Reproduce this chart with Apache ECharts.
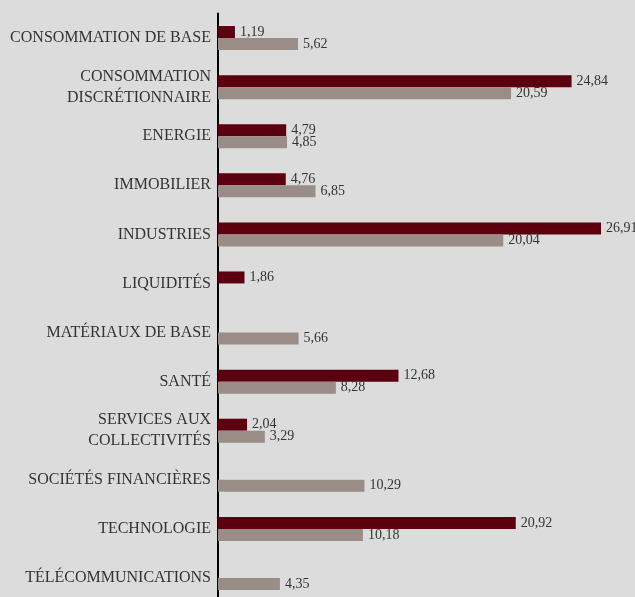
<!DOCTYPE html>
<html>
<head>
<meta charset="utf-8">
<script src="https://cdn.jsdelivr.net/npm/echarts@6/dist/echarts.min.js"></script>
<style>
  html, body { margin: 0; padding: 0; background: #dcdcdc; }
  #chart { width: 635px; height: 597px; }
</style>
</head>
<body>
<div id="chart"></div>
<script>
// secteurs
var categories = [
  'CONSOMMATION DE BASE',
  'CONSOMMATION\nDISCRÉTIONNAIRE',
  'ENERGIE',
  'IMMOBILIER',
  'INDUSTRIES',
  'LIQUIDITÉS',
  'MATÉRIAUX DE BASE',
  'SANTÉ',
  'SERVICES AUX\nCOLLECTIVITÉS',
  'SOCIÉTÉS FINANCIÈRES',
  'TECHNOLOGIE',
  'TÉLÉCOMMUNICATIONS'
]
var fondsValues = [1.19, 24.84, 4.79, 4.76, 26.91, 1.86, null, 12.68, 2.04, null, 20.92, null]
var indiceValues = [5.62, 20.59, 4.85, 6.85, 20.04, null, 5.66, 8.28, 3.29, 10.29, 10.18, 4.35]

var chart = echarts.init(document.getElementById('chart'))

function fmt(p) {
  return p.value == null ? '' : p.value.toFixed(2).replace('.', ',')
}

var labelStyle = {
  show: true,
  position: 'right',
  distance: 5,
  fontFamily: 'Liberation Serif',
  fontSize: 14,
  color: '#333',
  formatter: fmt
}

chart.setOption({
  backgroundColor: '#dcdcdc',
  animation: false,
  grid: {
    left: 218, top: 13.5, width: 427, height: 589,
    containLabel: false,
    outerBoundsMode: 'none'
  },
  xAxis: {
    type: 'value',
    min: 0,
    max: 30,
    show: false
  },
  yAxis: {
    type: 'category',
    inverse: true,
    data: categories,
    axisLine: { show: true, lineStyle: { color: '#000', width: 2 } },
    axisTick: { show: false },
    axisLabel: {
      margin: 7,
      fontFamily: 'Liberation Serif',
      fontSize: 16,
      lineHeight: 21,
      color: '#333',
      align: 'right'
    }
  },
  series: [
    {
      name: 'Fonds',
      type: 'bar',
      data: fondsValues,
      barWidth: 12,
      barGap: '0%',
      itemStyle: { color: '#5c0010' },
      label: labelStyle
    },
    {
      name: 'Indice',
      type: 'bar',
      data: indiceValues,
      barWidth: 12,
      itemStyle: { color: '#9a8c87' },
      label: labelStyle
    }
  ]
})
</script>
</body>
</html>
